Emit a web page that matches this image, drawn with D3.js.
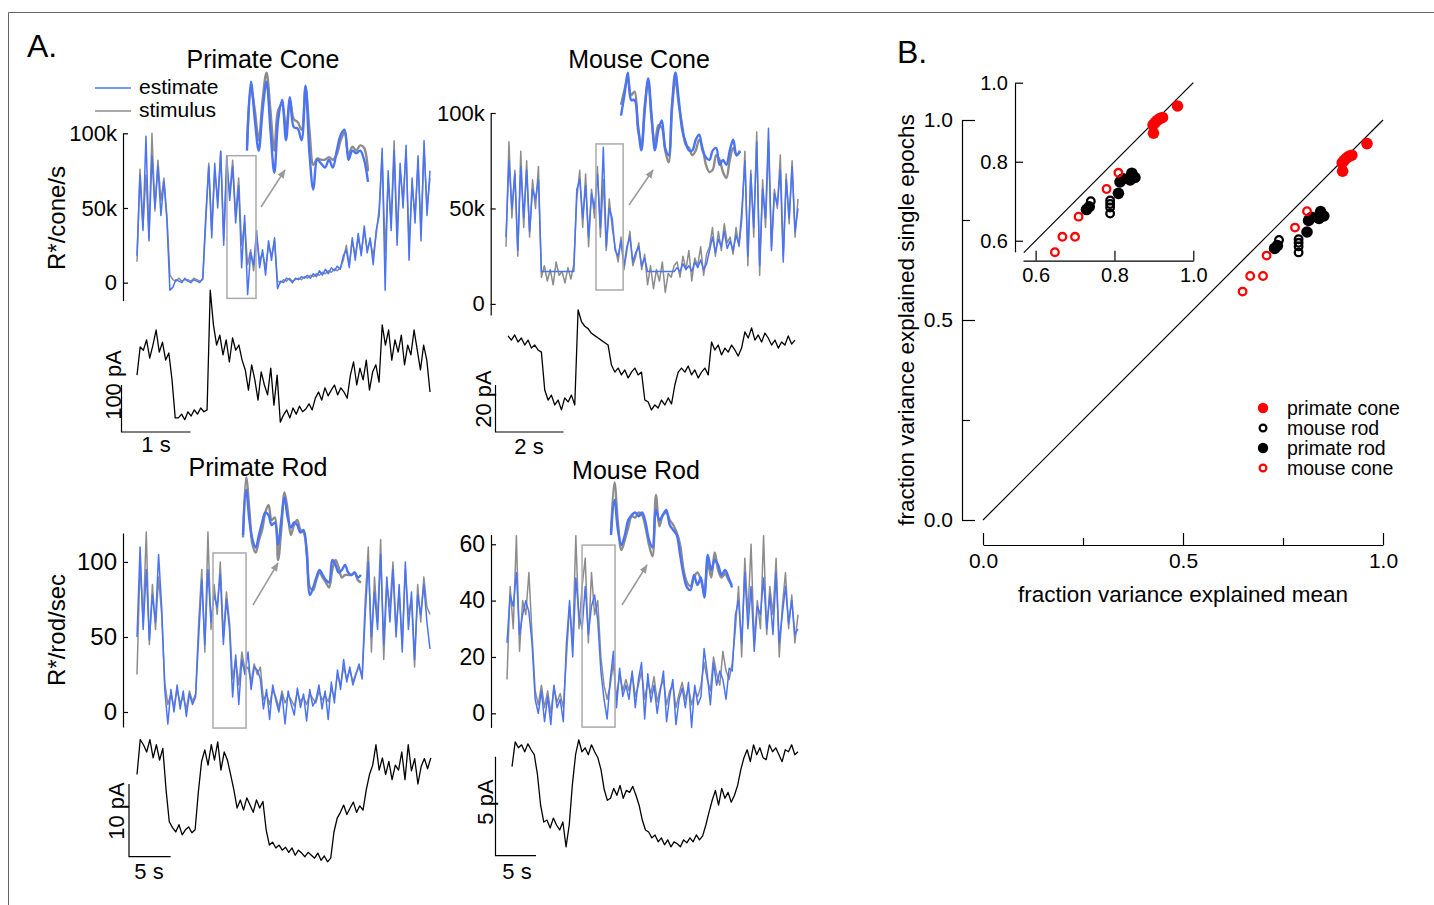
<!DOCTYPE html>
<html>
<head>
<meta charset="utf-8">
<script src="https://cdn.jsdelivr.net/npm/d3@7"></script>
<style>
  body { margin: 0; background: #fff; }
  svg { display: block; }
  text { font-family: "Liberation Sans", Arial, Helvetica, sans-serif; fill: #000; }
</style>
</head>
<body>
<div id="fig"></div>
<script>
// ---------- Panel A data ----------
// primate cone, R*/cone/s in thousands
const pcStim = [14,76,38,72,30,100,48,82,55,70, 45,5, 2,1,3,1,2,2,1,3,2,1,2,
  40,80,35,75,55,88,30,78,60,82,45,70, 25,40,12,22,8,30,15,20,10,25,18,28,
  1,0,2,1,3,1,2,3,2,4,3,5,4,6,5,7,6,8,7,9,8,10, 15,25,12,28,18,30,20,35,22,28,18,32,
  50,85,20,70,40,95,30,75,55,88,25,65,45,80,35,90,50,70];
const pcEst = [18,72,35,98,28,85,50,78,45,68, 42,-5, -3,2,1,0,3,1,0,2,1,0,3,
  45,78,30,80,50,88,25,85,55,78,40,65, 10,45,-8,20,12,35,10,22,5,28,15,30,
  -4,1,0,3,2,0,3,2,4,3,5,3,6,4,8,5,9,6,10,8,11,9, 18,22,10,30,15,33,18,38,20,30,12,35,
  45,90,-5,75,35,88,25,80,50,92,15,70,40,85,28,95,45,75];
const pcInStim = [42,86,69,46,77,98,69,38,69,73,54,77,62,60,54,86,54,27,32,31,31,33,31,35,46,52,35,41,38,42,40,22];
const pcInEst = [38,91,62,38,69,91,54,21,62,77,46,79,56,55,46,88,36,8,31,28,25,31,25,38,50,54,31,38,36,38,31,14];
const pcCur = [121,181, 174,196,157,185,217,170,191,153,168, 111,30, 30,38,26,43,34,47,38,51,43,47,
  302,228, 185,206,164,196,149,200,174,185,153, 132,89,143,111,68,128,100,79,136,57,121, 21,
  36,47,30,51,38,55,43,49,60,47, 72,85,68,94,77,89,100,79,94,85,72,
  121,149,100,136,111,153,89,128,143,106,
  228,185,217,153,196,170,206,143,185,164,217,174,132,185,153,85];

// mouse cone, R*/cone/s in thousands
const mcStim = [30,85,45,70,25,80,40,75,35,65,50,72, 14,20,12,18,10,22,15,17,11,19,13,21,
  55,70,40,68,30,60,45,72,35,65,28,55,40, 30,22,35,18,28,38,20,25,32,18,26,
  10,20,8,18,12,22,6,16,14,20, 22,14,25,18,28,12,24,20,30,15,26, 30,40,25,38,28,42,32,35,26,40,30,
  45,80,20,70,35,90,15,65,40,85,30,60,50,78,25,68,42,75,35,55];
const mcEst = [35,75,50,68,28,72,45,70,38,60,55,65, 17,17,17,17,17,17,17,17,17,17,17,17,
  60,65,45,62,35,58,50,68,40,82,30,50,45, 28,25,33,20,30,35,22,27,30,20,24,
  17,17,17,17,17,17,17,17,17,17, 19,17,21,18,20,17,22,19,23,18,21, 28,35,27,34,30,38,29,33,28,36,31,
  50,75,25,68,40,85,20,60,45,92,28,58,52,70,22,65,45,72,38,50];
const mcInStim = [71,83,93,79,82,50,38,71,90,58,38,54,52,33,23,67,92,71,54,38,35,29,33,42,35,21,15,17,29,25,15,10,25,35,29,33];
const mcInEst = [62,79,98,75,75,54,33,67,93,62,33,50,58,35,29,71,98,75,50,40,33,33,42,46,33,27,25,33,35,21,25,21,33,42,29,32];
const mcCur = [40.9,39.1,41.3,38.3,40,37,39.1,35.7,37,34.9,34, 17.9,13.6,
  15.7,11.5,13.6,9.4,14.5,12.8,15.7,11.5, 52,47,45,44,42,41,40,39,38,37,
  28.5,25.5,27.2,24.3,26.4,23,25.5,27.2,24.3,25.5, 13.6,12.8,9.4,11.5,10.2,13.6,11.5,14.5,11.9,
  20,25.5,27.2,25.5,28.1,24.3,26.4,23,25.5,27.2,24.3, 38.3,34.9,37,32.8,35.7,34,37,34.9,32.3,35.7,
  42.6,40,44.3,39.1,41.3,38.3,42.1,40,37,39.1,35.7,38.3,37,40.9,37.4,39.1];

// primate rod, R*/rod/sec
const prStim = [25,100,60,120,45,85,55,90,65, 20, 5,12,3,15,6,10,2,14,7,12,
  60,95,40,120,55,85,65,100,50,80,60, 22,35,18,40,28,30,20,32,25,30,
  8,12,5,15,10,3,14,6,11,8,4,13,7,10,5,12,9,6,14,8,11,7,15,10, 25,18,30,22,28,20,26,30,24,
  75,110,40,90,60,115,35,85,70,100,55,80,45,95,65,75,30,85,60,90,70,65];
const prEst = [50,110,55,95,48,78,60,105,70, 15, -8,15,0,18,2,14,-3,12,5,10,
  50,88,45,95,60,78,70,92,45,75,55, 10,38,5,35,25,40,15,30,28,22,
  2,15,-5,18,8,0,12,-8,14,5,-2,16,3,12,-6,15,4,8,18,2,14,-5,20,6, 28,15,35,20,30,18,25,32,22,
  65,100,50,80,55,105,45,90,60,95,50,85,40,100,55,80,35,78,65,85,60,42];
const prInStim = [50,98,72,44,38,48,56,70,76,64,66,32,56,86,72,52,60,64,56,54,40,10,8,16,22,18,14,10,24,32,26,18,20,20,20,22,16,14];
const prInEst = [52,88,64,48,42,52,62,70,68,60,62,44,64,82,66,58,62,60,54,56,36,4,10,18,24,20,16,14,32,28,22,24,28,22,20,22,18,20];
const prCur = [11.3,16.1, 15.4,14.4,16.1,13.6,15.4,13.3,14.9, 9.2,4.8, 4.0,3.4,4.4,3.0,3.7,4.1,3.3,3.7,
  8.9,13.1, 14.7,12.6,15.4,13.3,15.8,11.9,14.4,13.3,11.3, 9.2,6.7, 7.8,6.4,8.1,7.1,6.1,7.8,6.7,7.6, 3.7,1.6,
  2.0,1.2,1.6,0.9,1.3,0.6,1.2,0.2,0.9,0.5,0.0,0.6,0.2,-0.2,0.5,-0.5,0.1,-0.7,-0.2, 3.4,5.3,
  6.1,7.1,5.8,6.7,7.5,6.1,7.0,6.4, 9.2,11.3,
  12.6,15.4,11.9,13.6,11.3,13.1,10.6,12.6,11.9,14.4,10.6,15.4,11.8,13.5,10.0,12.4,13.5,12.1,13.6];

// mouse rod, R*/rod/sec
const mrStim = [12,45,30,63,22,40,35,50, 28,8, 3,10,2,8,0,9,4,7,2,
  20,38,25,63,30,45,55,25,50,35,40, 20,10,5, 10,18,5,14,8,
  12,8,14,6,10,15,5,11,7,13,4,9,12,3,8,10,2,7,11,5,9,3,8,6, 10,18,12,8,20,14,10,22,15,12, 18,30,
  45,20,55,35,60,25,40,30,63,28,45,35,55,20,38,50,30,42,25,35];
const mrEst = [25,42,38,50,28,35,40,36, 25,5, 0,8,-3,6,-4,10,2,5,-3,
  25,40,20,48,35,30,45,28,38,42,33, 15,5,-2, 12,22,2,16,6,
  10,5,15,2,12,18,-2,14,4,10,0,8,15,-3,6,12,-4,5,9,2,11,-5,10,3, 6,23,14,3,18,10,15,12,5,16, 15,35,
  40,25,50,30,45,22,38,35,48,30,42,28,50,25,35,45,32,40,28,30];
const mrInStim = [54,94,62,40,48,58,67,66,70,68,58,44,35,84,59,68,70,64,60,54,44,24,14,11,18,22,16,6,30,18,38,24,18,21,16,12];
const mrInEst = [52,80,56,44,52,64,68,70,67,70,62,48,42,72,64,68,72,60,56,52,36,20,10,8,20,12,18,2,36,24,32,28,20,24,18,10];
const mrCur = [4.5,5.75, 5.45,5.6,5.25,5.65,5.35,5.1, 4.1,2.55,1.7, 1.8,1.4,1.9,1.55,1.3,1.7, 0.45,1.55, 3.6,5.1,
  5.85,5.25,5.45,5.1,5.6,5.25,4.95, 4.35,3.35,2.8,2.9, 3.4,3.05,3.55,2.9,3.3,3.2,3.5,3.05, 2.55,1.8,1.3,
  1.2,0.9,1.05,0.7,0.9,0.55,0.8,0.45,0.7,0.6,0.45,0.8,0.65,0.9,0.7,1.05,0.8,1.0, 1.55,2.2,
  2.8,3.3,2.55,3.4,2.9,3.2,2.7,3.05, 3.55,4.35,4.95,
  5.35,4.75,5.6,5.1,5.45,4.95,4.85,5.6,5.25,5.45,5.1,4.75,5.35,5.25,5.6,5.1,5.25];

// ---------- Panel B data: [fraction explained mean, fraction explained single epochs] ----------
const primateCone = [[0.960,0.941],[0.922,0.912],[0.915,0.909],[0.909,0.905],[0.903,0.899],[0.898,0.893],[0.899,0.872]];
const primateRod = [[0.844,0.771],[0.852,0.760],[0.840,0.754],[0.814,0.749],[0.822,0.757],[0.810,0.720],[0.729,0.679],[0.736,0.686]];
const mouseRod = [[0.740,0.700],[0.789,0.702],[0.789,0.693],[0.789,0.684],[0.789,0.669]];
const mouseCone = [[0.810,0.772],[0.780,0.731],[0.709,0.661],[0.668,0.610],[0.700,0.610],[0.649,0.571]];

const BLUE = "#4a73f5", GRAY = "#8c8c8c", RED = "#ff0000";

const svg = d3.select("#fig").append("svg").attr("width", 1434).attr("height", 905);

svg.append("defs").append("marker")
  .attr("id", "ah").attr("viewBox", "0 0 10 10").attr("refX", 9).attr("refY", 5)
  .attr("markerWidth", 9).attr("markerHeight", 9).attr("markerUnits", "userSpaceOnUse")
  .attr("orient", "auto")
  .append("path").attr("d", "M0,1 L10,5 L0,9 Z").attr("fill", "#999");

// frame
svg.append("path").attr("d", "M8.5,905 V12.5 H1434").attr("fill", "none").attr("stroke", "#666").attr("stroke-width", 1);

svg.append("text").attr("x", 27).attr("y", 57).attr("font-size", 32).text("A.");
svg.append("text").attr("x", 897).attr("y", 63).attr("font-size", 32).text("B.");

// ---------- Panel A ----------
const panels = [
  { title: "Primate Cone", tx: 263, ty: 68, stim: pcStim, est: pcEst, dur: 4.25, xr: [137, 430],
    yDom: [-12, 100], yr: [300.6, 133.3], axisX: 123, ticks: [0, 50, 100], fmt: d => d === 0 ? "0" : d + "k", tf: 22,
    ylab: { text: "R*/cone/s", x: 57, y: 218 }, box: { t: [1.305, 1.726], v: [-10.5, 85] },
    inStim: pcInStim, inEst: pcInEst, inX: [247, 368], inY: [200, 70], arrow: [[261, 207], [285, 170]],
    cur: pcCur, curT: [0, 4.25], curDom: [0, 100], curR: [432, 385], barX: 121.5, barT: 1,
    barLab: { text: "100 pA", x: 113, y: 385 }, tLab: { text: "1 s", x: 156, y: 452 } },
  { title: "Mouse Cone", tx: 639, ty: 68, stim: mcStim, est: mcEst, dur: 8.6, xr: [506, 798],
    yDom: [-5.8, 100], yr: [315, 113], axisX: 490.7, ticks: [0, 50, 100], fmt: d => d === 0 ? "0" : d + "k", tf: 22,
    ylab: null, box: { t: [2.65, 3.45], v: [7.3, 83.8] },
    inStim: mcInStim, inEst: mcInEst, inX: [621, 740], inY: [190, 70], arrow: [[629, 205], [653, 170]],
    cur: mcCur, curT: [0.06, 8.51], curDom: [0, 20], curR: [432, 385], barX: 495.5, barT: 2,
    barLab: { text: "20 pA", x: 483, y: 399 }, tLab: { text: "2 s", x: 529, y: 454 } },
  { title: "Primate Rod", tx: 258, ty: 476, stim: prStim, est: prEst, dur: 35.2, xr: [137, 430],
    yDom: [-10, 119.3], yr: [727, 533], axisX: 123, ticks: [0, 50, 100], fmt: d => d, tf: 24,
    ylab: { text: "R*/rod/sec", x: 57, y: 630 }, box: { t: [9.13, 13.1], v: [-10.7, 106] },
    inStim: prInStim, inEst: prInEst, inX: [243, 361], inY: [600, 475], arrow: [[253, 605], [278, 563]],
    cur: prCur, curT: [0, 35.3], curDom: [0, 10], curR: [856.7, 784], barX: 129, barT: 5,
    barLab: { text: "10 pA", x: 116, y: 811 }, tLab: { text: "5 s", x: 149, y: 879 } },
  { title: "Mouse Rod", tx: 636, ty: 479, stim: mrStim, est: mrEst, dur: 35.9, xr: [507, 798],
    yDom: [-5, 63.5], yr: [727.4, 534.4], axisX: 491, ticks: [0, 20, 40, 60], fmt: d => d, tf: 23,
    ylab: null, box: { t: [9.26, 13.33], v: [-4.9, 59.7] },
    inStim: mrInStim, inEst: mrInEst, inX: [611, 732], inY: [600, 475], arrow: [[622, 605], [647, 565]],
    cur: mrCur, curT: [0.62, 35.9], curDom: [0, 5], curR: [855.7, 756.7], barX: 495.5, barT: 5,
    barLab: { text: "5 pA", x: 485, y: 802 }, tLab: { text: "5 s", x: 517, y: 879 } }
];

function trace(g, vals, t0, t1, x, y, color, width, curve) {
  const n = vals.length;
  const line = d3.line()
    .x((d, i) => x(t0 + i * (t1 - t0) / (n - 1)))
    .y(d => y(d))
    .curve(curve || d3.curveLinear);
  g.append("path").attr("d", line(vals)).attr("fill", "none")
    .attr("stroke", color).attr("stroke-width", width).attr("stroke-linejoin", "round");
}

panels.forEach(p => {
  const g = svg.append("g");
  const x = d3.scaleLinear([0, p.dur], p.xr);
  const y = d3.scaleLinear(p.yDom, p.yr);

  g.append("text").attr("x", p.tx).attr("y", p.ty).attr("text-anchor", "middle").attr("font-size", 25).text(p.title);

  const ax = g.append("g").attr("transform", `translate(${p.axisX},0)`)
    .call(d3.axisLeft(y).tickValues(p.ticks).tickFormat(p.fmt).tickSize(-5).tickPadding(6).tickSizeOuter(0));
  ax.selectAll("path,line").attr("stroke", "#000").attr("stroke-width", 1.2);
  ax.selectAll("text").attr("font-size", p.tf).attr("font-family", null);

  if (p.ylab) {
    g.append("text").attr("transform", `translate(${p.ylab.x},${p.ylab.y}) rotate(-90)`)
      .attr("text-anchor", "middle").attr("dy", "0.35em").attr("font-size", 24).text(p.ylab.text);
  }

  trace(g, p.stim, 0, p.dur, x, y, GRAY, 1.5);
  trace(g, p.est, 0, p.dur, x, y, BLUE, 1.5);

  g.append("rect")
    .attr("x", x(p.box.t[0])).attr("y", y(p.box.v[1]))
    .attr("width", x(p.box.t[1]) - x(p.box.t[0])).attr("height", y(p.box.v[0]) - y(p.box.v[1]))
    .attr("fill", "none").attr("stroke", "#aaa").attr("stroke-width", 1.5);

  // zoomed inset of the boxed stretch
  const ix = d3.scaleLinear([0, p.inStim.length - 1], p.inX);
  const iy = d3.scaleLinear([0, 100], p.inY);
  trace(g, p.inStim, 0, p.inStim.length - 1, ix, iy, GRAY, 2.4, d3.curveCatmullRom);
  trace(g, p.inEst, 0, p.inEst.length - 1, ix, iy, BLUE, 2.4, d3.curveCatmullRom);

  g.append("line")
    .attr("x1", p.arrow[0][0]).attr("y1", p.arrow[0][1]).attr("x2", p.arrow[1][0]).attr("y2", p.arrow[1][1])
    .attr("stroke", "#999").attr("stroke-width", 1.5).attr("marker-end", "url(#ah)");

  // photocurrent
  const cy = d3.scaleLinear(p.curDom, p.curR);
  trace(g, p.cur, p.curT[0], p.curT[1], x, cy, "#000", 1.3);

  const barLen = x(p.barT) - x(0);
  g.append("path")
    .attr("d", `M${p.barX},${cy(p.curDom[1])} V${cy(0)} H${p.barX + barLen}`)
    .attr("fill", "none").attr("stroke", "#000").attr("stroke-width", 1.2);
  g.append("text").attr("transform", `translate(${p.barLab.x},${p.barLab.y}) rotate(-90)`)
    .attr("text-anchor", "middle").attr("dy", "0.35em").attr("font-size", 22).text(p.barLab.text);
  g.append("text").attr("x", p.tLab.x).attr("y", p.tLab.y).attr("text-anchor", "middle").attr("font-size", 22).text(p.tLab.text);
});

// legend of panel A
const legA = svg.append("g");
[["estimate", BLUE, 87], ["stimulus", GRAY, 110]].forEach(([lab, col, yy]) => {
  legA.append("line").attr("x1", 95).attr("x2", 131).attr("y1", yy + 1).attr("y2", yy + 1).attr("stroke", col).attr("stroke-width", 1.5);
  legA.append("text").attr("x", 139).attr("y", yy).attr("dy", "0.33em").attr("font-size", 21).text(lab);
});

// ---------- Panel B ----------
const groups = [
  { name: "primate cone", data: primateCone, fill: RED, stroke: null },
  { name: "primate rod", data: primateRod, fill: "#000", stroke: null },
  { name: "mouse rod", data: mouseRod, fill: "none", stroke: "#000" },
  { name: "mouse cone", data: mouseCone, fill: "none", stroke: RED }
];

function drawPoints(g, x, y) {
  groups.forEach(gr => {
    g.append("g").selectAll("circle").data(gr.data).join("circle")
      .attr("cx", d => x(d[0])).attr("cy", d => y(d[1]))
      .attr("r", gr.stroke ? 3.8 : 5.8)
      .attr("fill", gr.fill)
      .attr("stroke", gr.stroke || "none").attr("stroke-width", 2.3);
  });
}

function styleAxis(a, fs) {
  a.selectAll("path,line").attr("stroke", "#000").attr("stroke-width", 1.2);
  a.selectAll("text").attr("font-size", fs).attr("font-family", null);
}

const bx = d3.scaleLinear([0, 1], [983, 1383]);
const by = d3.scaleLinear([0, 1], [520, 120]);
const gB = svg.append("g");

gB.append("line").attr("x1", bx(0)).attr("y1", by(0)).attr("x2", bx(1)).attr("y2", by(1))
  .attr("stroke", "#000").attr("stroke-width", 1.2);

styleAxis(gB.append("g").attr("transform", "translate(0,545)")
  .call(d3.axisBottom(bx).tickValues([0, 0.5, 1]).tickFormat(d3.format(".1f")).tickSize(-12).tickPadding(8).tickSizeOuter(0)), 21);
styleAxis(gB.append("g").attr("transform", "translate(0,545)")
  .call(d3.axisBottom(bx).tickValues([0.25, 0.75]).tickFormat("").tickSize(-7).tickSizeOuter(0))
  .call(a => a.select(".domain").remove()), 21);
styleAxis(gB.append("g").attr("transform", "translate(962,0)")
  .call(d3.axisLeft(by).tickValues([0, 0.5, 1]).tickFormat(d3.format(".1f")).tickSize(-13).tickPadding(9).tickSizeOuter(0)), 21);
styleAxis(gB.append("g").attr("transform", "translate(962,0)")
  .call(d3.axisLeft(by).tickValues([0.25, 0.75]).tickFormat("").tickSize(-8).tickSizeOuter(0))
  .call(a => a.select(".domain").remove()), 21);

gB.append("text").attr("x", 1183).attr("y", 602).attr("text-anchor", "middle").attr("font-size", 22.5)
  .text("fraction variance explained mean");
gB.append("text").attr("transform", "translate(906,320) rotate(-90)").attr("text-anchor", "middle")
  .attr("dy", "0.35em").attr("font-size", 22.5).text("fraction variance explained single epochs");

drawPoints(gB, bx, by);

// inset
const ixB = d3.scaleLinear([0.568, 1], [1023, 1193.3]);
const iyB = d3.scaleLinear([0.572, 1], [251.8, 82.7]);
gB.append("line").attr("x1", ixB(0.57)).attr("y1", iyB(0.57)).attr("x2", ixB(1)).attr("y2", iyB(1))
  .attr("stroke", "#000").attr("stroke-width", 1.2);
styleAxis(gB.append("g").attr("transform", "translate(0,260.7)")
  .call(d3.axisBottom(ixB).tickValues([0.6, 0.8, 1]).tickFormat(d3.format(".1f")).tickSize(-10).tickPadding(7).tickSizeOuter(0)), 20);
styleAxis(gB.append("g").attr("transform", "translate(1015,0)")
  .call(d3.axisLeft(iyB).tickValues([0.6, 0.8, 1]).tickFormat(d3.format(".1f")).tickSize(-8).tickPadding(7).tickSizeOuter(0)), 20);
drawPoints(gB, ixB, iyB);

// legend of panel B
const legOrder = ["primate cone", "mouse rod", "primate rod", "mouse cone"];
const legB = gB.append("g");
legOrder.forEach((nm, i) => {
  const gr = groups.find(d => d.name === nm);
  const yy = 408 + i * 20;
  legB.append("circle").attr("cx", 1263).attr("cy", yy).attr("r", gr.stroke ? 3.4 : 5.2)
    .attr("fill", gr.fill).attr("stroke", gr.stroke || "none").attr("stroke-width", 2.2);
  legB.append("text").attr("x", 1287).attr("y", yy).attr("dy", "0.35em").attr("font-size", 19.5).text(nm);
});
</script>
</body>
</html>
